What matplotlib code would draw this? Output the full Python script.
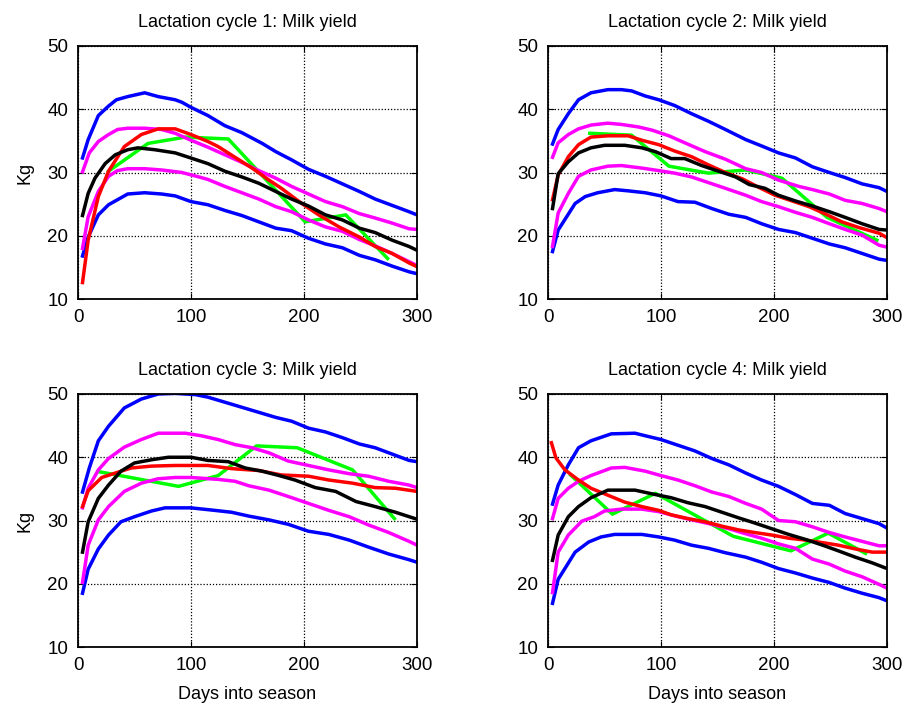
import matplotlib
matplotlib.use("Agg")
import matplotlib.pyplot as plt

plt.rcParams["font.family"] = ["Liberation Sans", "DejaVu Sans"]

# (day, kg) pairs, one list per curve
# --- lactation cycle 1
c1_blue_hi = [(4, 32.3), (9, 35.2), (18, 39.0), (27, 40.5), (34, 41.5), (44, 42.0), (59, 42.6),
              (71, 42.0), (86, 41.5), (92, 41.1), (100, 40.3), (115, 39.0), (130, 37.4), (145, 36.3),
              (163, 34.6), (175, 33.3), (189, 32.0), (204, 30.5), (219, 29.4), (234, 28.2),
              (249, 27.0), (263, 25.8), (278, 24.8), (293, 23.8), (300, 23.3)]
c1_mag_hi = [(4, 30.1), (10, 33.1), (18, 34.9), (27, 36.0), (35, 36.8), (44, 37.0), (59, 37.0),
             (74, 36.8), (86, 36.2), (100, 35.1), (115, 34.0), (130, 32.8), (145, 31.6), (160, 30.3),
             (175, 29.1), (189, 27.8), (204, 26.6), (219, 25.4), (234, 24.6), (249, 23.5),
             (263, 22.8), (278, 22.0), (293, 21.1), (300, 21.0)]
c1_black = [(4, 23.2), (9, 26.7), (15, 29.1), (24, 31.4), (33, 32.8), (44, 33.6), (53, 33.9),
            (68, 33.6), (86, 33.1), (98, 32.4), (115, 31.4), (130, 30.2), (145, 29.3), (160, 28.3),
            (175, 27.0), (189, 25.8), (204, 24.7), (219, 23.3), (234, 22.5), (249, 21.2),
            (263, 20.5), (278, 19.3), (293, 18.3), (300, 17.7)]
c1_mag_lo = [(4, 18.0), (9, 23.0), (18, 27.0), (27, 29.4), (35, 30.3), (44, 30.6), (59, 30.6),
             (74, 30.4), (92, 30.0), (107, 29.3), (115, 28.9), (130, 27.8), (145, 26.8), (160, 25.8),
             (175, 24.6), (189, 23.8), (204, 22.5), (219, 21.4), (234, 20.7), (249, 19.4),
             (263, 18.4), (278, 17.2), (293, 15.9), (300, 15.3)]
c1_blue_lo = [(4, 16.8), (9, 19.8), (18, 23.3), (27, 24.9), (35, 25.7), (44, 26.6), (59, 26.8),
              (74, 26.6), (86, 26.3), (100, 25.4), (115, 24.9), (130, 24.0), (145, 23.2), (160, 22.2),
              (175, 21.2), (189, 20.8), (204, 19.6), (219, 18.7), (234, 18.1), (249, 16.9),
              (263, 16.2), (278, 15.2), (293, 14.3), (300, 14.0)]
c1_red = [(4, 12.6), (9, 19.3), (18, 26.2), (27, 30.2), (41, 34.1), (56, 36.0), (71, 36.9),
          (86, 36.9), (100, 36.0), (115, 34.9), (124, 34.1), (139, 32.4), (154, 30.7), (169, 28.8),
          (180, 27.5), (198, 25.1), (213, 23.3), (231, 21.4), (249, 19.8), (263, 18.3),
          (278, 17.2), (293, 15.7), (300, 15.1)]
c1_green = [(27, 30.2), (62, 34.6), (95, 35.6), (133, 35.3), (201, 22.2), (237, 23.3), (274, 16.4)]

# --- lactation cycle 2
c2_blue_hi = [(4, 34.5), (9, 36.8), (18, 39.3), (27, 41.5), (38, 42.6), (53, 43.1), (65, 43.1),
              (74, 42.9), (86, 42.1), (98, 41.5), (112, 40.6), (127, 39.3), (142, 38.1), (157, 36.8),
              (175, 35.2), (189, 34.2), (204, 33.1), (219, 32.3), (234, 30.9), (249, 30.0),
              (263, 29.2), (278, 28.2), (293, 27.6), (300, 27.0)]
c2_mag_hi = [(4, 32.4), (9, 34.7), (18, 36.0), (27, 36.9), (38, 37.5), (53, 37.8), (65, 37.6),
             (80, 37.2), (92, 36.7), (107, 35.8), (121, 34.7), (139, 33.3), (157, 32.1), (175, 30.6),
             (189, 30.0), (204, 28.8), (222, 27.8), (234, 27.3), (249, 26.6), (263, 25.6),
             (278, 25.1), (293, 24.3), (300, 23.8)]
c2_red = [(4, 25.7), (9, 29.6), (18, 32.5), (27, 34.4), (38, 35.6), (53, 35.8), (71, 35.8),
          (83, 35.1), (98, 34.4), (112, 33.4), (127, 32.5), (142, 31.2), (157, 30.0), (172, 29.0),
          (186, 27.7), (201, 26.4), (216, 25.5), (231, 24.6), (246, 23.4), (260, 22.2),
          (275, 21.3), (293, 20.4), (300, 19.7)]
c2_black = [(4, 24.3), (9, 29.8), (18, 31.7), (27, 33.1), (38, 33.9), (50, 34.3), (68, 34.3),
            (83, 33.9), (95, 33.3), (109, 32.2), (121, 32.2), (136, 31.1), (151, 30.2), (166, 29.3),
            (178, 28.1), (192, 27.5), (204, 26.4), (219, 25.5), (234, 24.7), (249, 23.8),
            (263, 22.9), (278, 21.9), (293, 21.0), (300, 20.9)]
c2_mag_lo = [(4, 18.3), (9, 23.6), (18, 26.7), (27, 29.4), (38, 30.4), (53, 31.0), (65, 31.1),
             (83, 30.7), (98, 30.3), (112, 29.9), (127, 29.3), (142, 28.4), (157, 27.5), (175, 26.4),
             (189, 25.4), (204, 24.6), (219, 23.7), (234, 22.9), (249, 21.9), (263, 21.0),
             (278, 20.1), (293, 18.5), (300, 18.2)]
c2_blue_lo = [(4, 17.5), (9, 20.9), (24, 25.1), (33, 26.2), (44, 26.8), (59, 27.3), (71, 27.1),
              (86, 26.8), (100, 26.3), (115, 25.4), (130, 25.3), (145, 24.3), (160, 23.4), (175, 22.9),
              (189, 21.9), (204, 21.0), (219, 20.5), (234, 19.6), (249, 18.7), (263, 18.1),
              (278, 17.2), (293, 16.3), (300, 16.1)]
c2_green = [(37, 36.2), (74, 35.9), (107, 31.0), (142, 29.9), (175, 30.4), (207, 29.1),
            (247, 22.9), (291, 19.3)]

# --- lactation cycle 3
c3_blue_hi = [(4, 34.5), (10, 38.3), (18, 42.6), (27, 44.9), (41, 47.8), (56, 49.2), (71, 50.0),
              (86, 50.1), (104, 49.9), (115, 49.5), (130, 48.7), (145, 47.9), (160, 47.1), (175, 46.3),
              (189, 45.7), (204, 44.6), (219, 44.0), (234, 43.1), (249, 42.1), (263, 41.5),
              (278, 40.5), (293, 39.5), (300, 39.3)]
c3_mag_hi = [(4, 32.0), (9, 35.1), (18, 38.0), (27, 39.8), (41, 41.6), (56, 42.8), (71, 43.8),
             (95, 43.8), (109, 43.4), (124, 42.8), (139, 42.0), (154, 41.5), (169, 40.7), (186, 39.4),
             (204, 38.7), (222, 38.0), (240, 37.4), (257, 37.0), (275, 36.2), (293, 35.6),
             (300, 35.2)]
c3_black = [(4, 25.0), (9, 29.8), (18, 33.5), (27, 35.6), (38, 37.8), (50, 39.1), (65, 39.6),
            (80, 40.0), (100, 40.0), (115, 39.5), (133, 39.3), (148, 38.3), (163, 37.8), (178, 37.1),
            (192, 36.4), (210, 35.2), (228, 34.6), (246, 33.0), (263, 32.2), (281, 31.3),
            (300, 30.2)]
c3_red = [(4, 32.2), (9, 34.7), (21, 36.8), (33, 37.5), (47, 38.3), (65, 38.6), (86, 38.7),
          (115, 38.7), (136, 38.2), (160, 37.9), (180, 37.2), (204, 37.0), (222, 36.4),
          (243, 35.9), (263, 35.2), (281, 35.1), (300, 34.6)]
c3_mag_lo = [(4, 20.2), (9, 26.1), (18, 30.1), (27, 32.2), (41, 34.6), (56, 35.9), (71, 36.6),
             (86, 36.8), (100, 36.8), (124, 36.5), (139, 36.2), (151, 35.5), (169, 34.8), (186, 33.8),
             (204, 32.7), (222, 31.6), (240, 30.6), (257, 29.3), (275, 28.1), (293, 26.7),
             (300, 26.1)]
c3_blue_lo = [(4, 18.5), (9, 22.3), (18, 25.5), (27, 27.7), (38, 29.8), (50, 30.6), (65, 31.5),
              (77, 32.0), (100, 32.0), (121, 31.6), (136, 31.3), (151, 30.7), (169, 30.1), (186, 29.4),
              (204, 28.3), (222, 27.8), (240, 26.9), (257, 25.8), (275, 24.7), (293, 23.8),
              (300, 23.4)]
c3_green = [(19, 37.7), (89, 35.4), (124, 37.1), (158, 41.8), (194, 41.5), (243, 38.0), (280, 30.3)]

# --- lactation cycle 4
c4_red = [(3, 42.3), (7, 39.9), (15, 38.0), (27, 36.4), (38, 35.1), (53, 34.0), (68, 32.9),
          (83, 32.2), (98, 31.6), (109, 30.9), (124, 30.3), (139, 29.8), (154, 29.1), (169, 28.5),
          (183, 28.1), (198, 27.7), (213, 27.2), (228, 26.9), (243, 26.5), (257, 26.1),
          (272, 25.5), (287, 25.0), (300, 25.0)]
c4_blue_hi = [(4, 32.6), (9, 35.6), (18, 38.8), (27, 41.5), (38, 42.6), (56, 43.7), (77, 43.8),
              (86, 43.4), (100, 42.8), (115, 41.9), (130, 41.0), (145, 39.8), (160, 38.8), (175, 37.5),
              (189, 36.4), (204, 35.4), (219, 34.1), (234, 32.7), (249, 32.4), (263, 31.1),
              (278, 30.3), (293, 29.5), (300, 28.8)]
c4_mag_hi = [(4, 30.3), (9, 33.5), (18, 35.1), (27, 36.2), (38, 37.1), (56, 38.3), (68, 38.4),
             (86, 37.8), (100, 37.1), (115, 36.4), (130, 35.5), (145, 34.5), (160, 33.8), (175, 32.7),
             (189, 31.8), (204, 30.0), (219, 29.8), (234, 29.0), (249, 28.1), (263, 27.4),
             (278, 26.7), (293, 26.0), (300, 26.0)]
c4_black = [(4, 23.7), (9, 27.7), (18, 30.6), (27, 32.2), (38, 33.6), (53, 34.8), (77, 34.8),
            (95, 34.1), (109, 33.6), (124, 32.8), (139, 32.2), (154, 31.3), (169, 30.4), (183, 29.6),
            (198, 28.7), (213, 27.8), (228, 27.0), (243, 26.1), (257, 25.2), (272, 24.2),
            (287, 23.3), (300, 22.4)]
c4_mag_lo = [(4, 18.6), (9, 25.0), (18, 27.7), (30, 29.9), (41, 30.6), (50, 31.5), (65, 31.8),
             (83, 31.8), (98, 31.4), (115, 30.6), (130, 30.0), (145, 29.4), (160, 28.7), (175, 27.9),
             (189, 27.2), (204, 26.3), (219, 25.6), (234, 23.9), (249, 23.1), (263, 22.0),
             (278, 21.1), (293, 19.9), (300, 19.3)]
c4_blue_lo = [(4, 16.9), (9, 20.7), (24, 25.0), (36, 26.6), (47, 27.4), (59, 27.8), (83, 27.8),
              (98, 27.4), (112, 26.9), (127, 26.1), (142, 25.6), (157, 24.9), (175, 24.2), (189, 23.4),
              (204, 22.4), (219, 21.7), (234, 20.9), (249, 20.2), (263, 19.3), (278, 18.5),
              (293, 17.8), (300, 17.3)]
c4_green = [(20, 37.2), (57, 31.0), (95, 34.3), (164, 27.5), (215, 25.2), (248, 28.0), (281, 24.8)]

cycles = [
    (c1_green, c1_blue_hi, c1_blue_lo, c1_mag_hi, c1_mag_lo, c1_red, c1_black),
    (c2_green, c2_blue_hi, c2_blue_lo, c2_mag_hi, c2_mag_lo, c2_red, c2_black),
    (c3_green, c3_blue_hi, c3_blue_lo, c3_mag_hi, c3_mag_lo, c3_red, c3_black),
    (c4_green, c4_blue_hi, c4_blue_lo, c4_mag_hi, c4_mag_lo, c4_red, c4_black),
]
colors = ["#00ff00", "#0000ff", "#0000ff", "#ff00ff", "#ff00ff", "#ff0000", "#000000"]

fig = plt.figure(figsize=(9.07, 7.09), dpi=100)
W, H = 907, 709
boxes = [(78, 46), (548, 46), (78, 394), (548, 394)]  # left, top in px
aw, ah = 339, 253

for i, (curves, (lx, ty)) in enumerate(zip(cycles, boxes)):
    ax = fig.add_axes([lx / W, 1 - (ty + ah) / H, aw / W, ah / H])
    for pts, c in zip(curves, colors):
        xs = [p[0] for p in pts]
        ys = [p[1] for p in pts]
        ax.plot(xs, ys, color=c, lw=2.5, solid_joinstyle="round")
    ax.set_xlim(0, 300)
    ax.set_ylim(10, 50)
    ax.set_xticks([0, 100, 200, 300])
    ax.set_yticks([10, 20, 30, 40, 50])
    ax.grid(True, color="black", ls=(0, (1, 1.5)), lw=0.9)
    ax.tick_params(direction="in", top=True, right=True, length=4, labelsize=13.5, pad=7)
    for s in ax.spines.values():
        s.set_linewidth(1.3)
    ax.set_title(f"Lactation cycle {i + 1}: Milk yield", fontsize=13, pad=14)
    if i % 2 == 0:
        ax.set_ylabel("Kg", fontsize=13, labelpad=10)
    if i >= 2:
        ax.set_xlabel("Days into season", fontsize=13, labelpad=9)

fig.savefig("out.png", dpi=100)
